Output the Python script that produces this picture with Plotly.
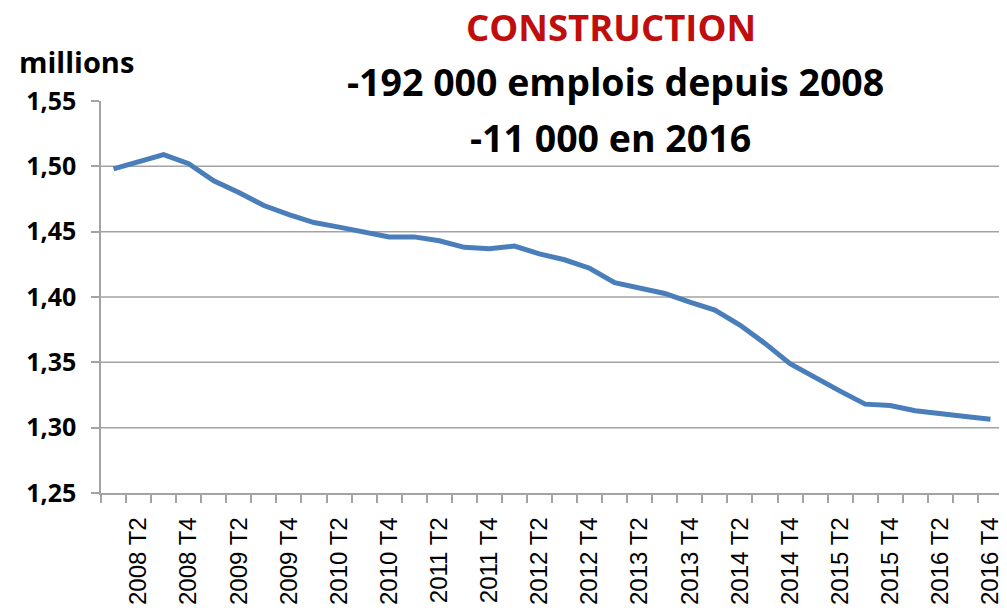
import plotly.graph_objects as go

# ---- data ----
quarters = [f"{y} T{q}" for y in range(2008, 2017) for q in (1, 2, 3, 4)]
employment = [
    1.498, 1.504, 1.509, 1.502,   # 2008
    1.489, 1.480, 1.470, 1.463,   # 2009
    1.457, 1.4535, 1.450, 1.446,  # 2010
    1.446, 1.443, 1.438, 1.437,   # 2011
    1.439, 1.433, 1.4285, 1.422,  # 2012
    1.411, 1.4065, 1.4027, 1.396, # 2013
    1.390, 1.3785, 1.3645, 1.349, # 2014
    1.338, 1.328, 1.318, 1.317,   # 2015
    1.313, 1.3105, 1.3085, 1.3065 # 2016
]
x_tick_labels = [q if q.endswith("T2") or q.endswith("T4") else "" for q in quarters]
y_ticks = [1.25, 1.30, 1.35, 1.40, 1.45, 1.50, 1.55]
y_grid = [1.30, 1.35, 1.40, 1.45, 1.50]

title_red = "CONSTRUCTION"
title_l2 = "-192 000 emplois depuis 2008"
title_l3 = "-11 000 en 2016"
unit_label = "millions"

# ---- figure ----
# The page body has an 8px margin, so the figure is drawn 8px in from the top-left.
OFF = 8
W, H = 1007 - OFF, 611 - OFF
L, R, T, B = 101 - OFF, 4, 101 - OFF, 118
ph = H - T - B

def ypaper(px):
    return (H - B - (px - OFF)) / ph

def xpaper(px):
    return ((px - OFF) - L) / (W - L - R)

AX = "#a3a3a3"

fig = go.Figure()
fig.add_trace(go.Scatter(
    x=quarters, y=employment, mode="lines",
    line=dict(color="#4A7EBB", width=5),
    hoverinfo="skip", showlegend=False,
))

for g in y_grid:
    fig.add_shape(type="line", xref="paper", x0=0, x1=1, yref="y", y0=g, y1=g,
                  line=dict(color=AX, width=1.5), layer="below")

fig.add_annotation(text=title_red, xref="paper", yref="paper",
                   x=xpaper(611), y=ypaper(27), xanchor="center", yanchor="middle",
                   showarrow=False,
                   font=dict(family="Open Sans", size=36.5, weight="bold", color="#C00D0D"))
fig.add_annotation(text=title_l2, xref="paper", yref="paper",
                   x=xpaper(615), y=ypaper(81), xanchor="center", yanchor="middle",
                   showarrow=False,
                   font=dict(family="Open Sans", size=37.5, weight="bold", color="#000000"))
fig.add_annotation(text=title_l3, xref="paper", yref="paper",
                   x=xpaper(610), y=ypaper(137), xanchor="center", yanchor="middle",
                   showarrow=False,
                   font=dict(family="Open Sans", size=37.5, weight="bold", color="#000000"))
fig.add_annotation(text=unit_label, xref="paper", yref="paper",
                   x=xpaper(17), y=ypaper(61), xanchor="left", yanchor="middle",
                   showarrow=False,
                   font=dict(family="Open Sans", size=29, weight="bold", color="#000000"))

fig.update_layout(
    width=W, height=H,
    margin=dict(l=L, r=R, t=T, b=B, autoexpand=False),
    paper_bgcolor="white", plot_bgcolor="white",
    separators=", ",
    showlegend=False,
    xaxis=dict(
        type="category", automargin=False,
        tickmode="array", tickvals=quarters, ticktext=x_tick_labels,
        tickson="boundaries",
        ticks="outside", ticklen=8, tickwidth=1.5, tickcolor=AX,
        showline=True, linecolor=AX, linewidth=1.5,
        showgrid=False, zeroline=False,
        tickangle=-90,
        tickfont=dict(family="Liberation Sans", size=24, color="#000000"),
        ticklabelstandoff=13,
        range=[-0.5, len(quarters) - 0.5],
    ),
    yaxis=dict(
        range=[1.25, 1.55], automargin=False,
        tickmode="array", tickvals=y_ticks, tickformat=".2f",
        ticks="outside", ticklen=8, tickwidth=1.5, tickcolor=AX,
        showline=True, linecolor=AX, linewidth=1.5,
        showgrid=False, zeroline=False,
        tickfont=dict(family="Open Sans", size=25, weight="bold", color="#000000"),
        ticklabelstandoff=10,
    ),
)

fig.write_html("out.html")
